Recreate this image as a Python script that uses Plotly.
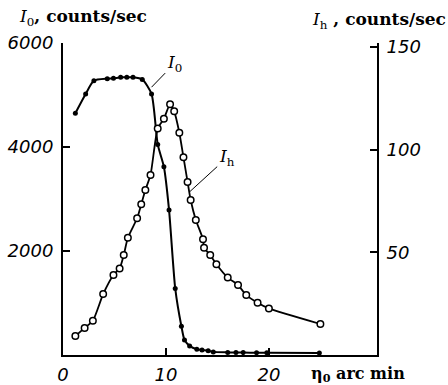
import plotly.graph_objects as go

# I0 (filled dots), left axis, counts/sec
i0_x = [1.2, 2.2, 3.0, 4.3, 4.9, 5.6, 6.2, 6.8, 7.7, 8.6, 9.2, 9.8, 10.3, 10.9,
        11.5, 11.8, 12.3, 13.0, 13.5, 14.1, 14.6, 16.0, 16.8, 17.5, 18.8, 19.8, 24.9]
i0_y = [4650, 5020, 5275, 5313, 5320, 5340, 5340, 5340, 5300, 5020, 4050, 3620, 2790, 1280,
        552, 290, 175, 110, 96, 83, 60, 50, 48, 46, 45, 44, 40]

# Ih (open circles), right axis, counts/sec
ih_x = [1.2, 2.1, 2.9, 3.9, 4.9, 5.5, 5.9, 6.3, 7.2, 7.6, 8.0, 8.5, 9.2, 9.8, 10.4, 10.8,
        11.3, 11.7, 12.1, 12.4, 12.9, 13.6, 13.7, 14.3, 14.9, 16.0, 17.0, 17.8, 18.9, 20.0, 25.0]
ih_y = [9.2, 13.2, 16.7, 29.7, 39.0, 42.2, 48.7, 57.1, 66.6, 73.4, 80.4, 87.7, 110.4, 115.1, 122.1, 118.7,
        108.3, 96.4, 84.3, 75.5, 65.8, 56.4, 52.3, 48.7, 44.2, 37.7, 34.1, 29.2, 25.5, 22.7, 15.1]

x_ticks = [0, 10, 20]
x_labels = ["0", "10", "20"]
y_left_ticks = [2000, 4000, 6000]
y_left_labels = ["2000", "4000", "6000"]
y_right_ticks = [50, 100, 150]
y_right_labels = ["50", "100", "150"]

TICKFONT = dict(family="DejaVu Sans", size=18, color="black")
SERIF = "DejaVu Serif"


def ital(labels):
    return [f"<i>{s}</i>" for s in labels]


fig = go.Figure()
fig.add_trace(go.Scatter(
    x=i0_x, y=i0_y, mode="lines+markers",
    line=dict(color="black", width=2, shape="spline", smoothing=0.6),
    marker=dict(symbol="circle", size=5, color="black"),
    showlegend=False, yaxis="y"))
fig.add_trace(go.Scatter(
    x=ih_x, y=ih_y, mode="lines+markers",
    line=dict(color="black", width=1.8, shape="spline", smoothing=0.6),
    marker=dict(symbol="circle", size=6.5, color="white", line=dict(color="black", width=1.5)),
    showlegend=False, yaxis="y2"))

axis_common = dict(showgrid=False, zeroline=False, showline=True, linecolor="black",
                   linewidth=2, ticks="inside", tickcolor="black", tickwidth=1.5,
                   ticklen=7, tickfont=TICKFONT, automargin=False)

fig.update_layout(
    width=448, height=385,
    margin=dict(l=63, r=71, t=43, b=30),
    paper_bgcolor="white", plot_bgcolor="white",
    xaxis=dict(range=[0, 30.5], tickvals=x_ticks, ticktext=ital(x_labels),
               ticklabelstandoff=2, **axis_common),
    yaxis=dict(range=[0, 6000], tickvals=y_left_ticks, ticktext=ital(y_left_labels),
               ticklabelstandoff=4, **axis_common),
    yaxis2=dict(range=[0, 152], tickvals=y_right_ticks, ticktext=ital(y_right_labels),
                overlaying="y", side="right", ticklabelstandoff=4, **axis_common),
    annotations=[
        dict(xref="paper", yref="paper", x=-0.146, y=1.0, yshift=26, xanchor="left", yanchor="middle",
             showarrow=False,
             text="<i>I</i><sub>0</sub><b>, counts/sec</b>",
             font=dict(family=SERIF, size=17, color="black")),
        dict(xref="paper", yref="paper", x=1.225, y=1.0, yshift=23, xanchor="right", yanchor="middle",
             showarrow=False,
             text="<i>I</i><sub>h</sub><b> , counts/sec</b>",
             font=dict(family=SERIF, size=17, color="black")),
        dict(xref="paper", yref="paper", x=1.095, y=0, yshift=-19, xanchor="right", yanchor="middle",
             showarrow=False,
             text="<b>η<sub>0</sub> arc min</b>",
             font=dict(family=SERIF, size=16, color="black")),
        dict(xref="x", yref="y", x=8.6, y=5150, axref="x", ayref="y", ax=10.8, ay=5600,
             showarrow=True, arrowhead=0, arrowwidth=1, arrowcolor="black",
             text="<i>I</i><sub>0</sub>", font=dict(family=SERIF, size=17, color="black")),
        dict(xref="x", yref="y2", x=12.3, y=79.5, axref="x", ayref="y2", ax=15.9, ay=96,
             showarrow=True, arrowhead=0, arrowwidth=1, arrowcolor="black",
             text="<i>I</i><sub>h</sub>", font=dict(family=SERIF, size=17, color="black")),
    ],
)

fig.write_html("out.html", config={"displayModeBar": False},
               post_script="document.body.style.margin='0px';")
